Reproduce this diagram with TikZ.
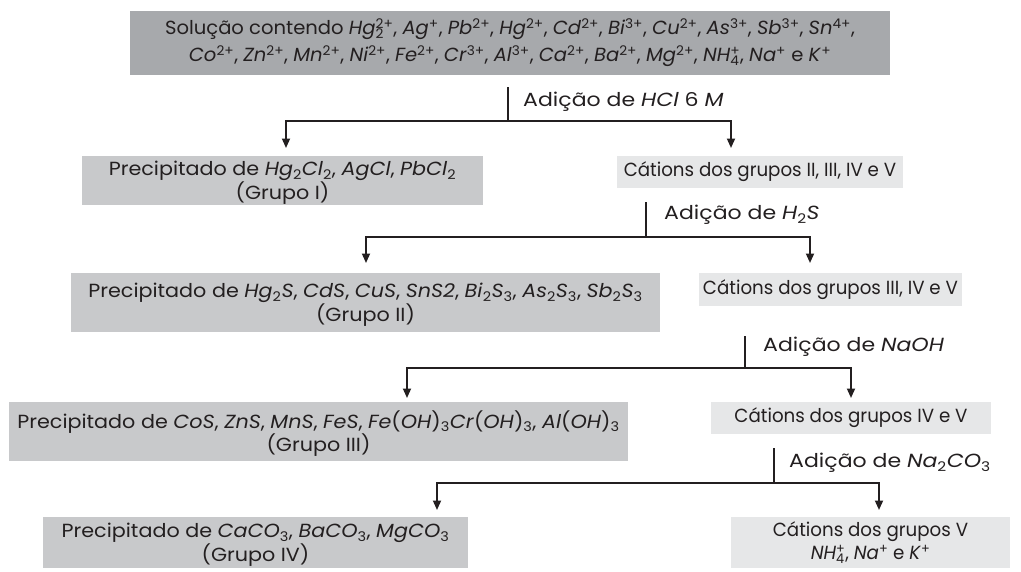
\documentclass[tikz,border=0pt]{standalone}
\usepackage{fontspec}
\setmainfont{Poppins}
\newfontfamily\fTop[FakeStretch=1.03]{Poppins}
\newfontfamily\fPre[FakeStretch=1.09]{Poppins}
\newfontfamily\fCat[FakeStretch=0.96]{Poppins}
\newfontfamily\fLab[FakeStretch=1.16]{Poppins}
\usetikzlibrary{arrows.meta}
\definecolor{dk}{HTML}{A7A9AC}
\definecolor{md}{HTML}{C8C9CB}
\definecolor{lt}{HTML}{E6E7E8}
\definecolor{ink}{HTML}{231F20}
\newcommand\el[1]{\textit{#1}}
\newcommand\Sup[1]{\textsuperscript{#1}}
\newcommand\Sub[1]{\textsubscript{#1}}
\newcommand\SubSup[2]{\makebox[0pt][l]{\textsubscript{#1}}\textsuperscript{#2}}
\tikzset{
  dkbox/.style={fill=dk, inner sep=0pt},
  mdbox/.style={fill=md, inner sep=0pt},
  ltbox/.style={fill=lt, inner sep=0pt},
  toptext/.style={inner sep=0pt, align=center, font=\fTop\fontsize{19}{27}\selectfont},
  pretext/.style={inner sep=0pt, align=center, font=\fPre\fontsize{19}{20}\selectfont},
  cattext/.style={inner sep=0pt, align=center, font=\fCat\fontsize{19}{23}\selectfont},
  conn/.style={line width=1.8pt, draw=ink},
  arr/.style={conn, -{Triangle[width=8pt,length=9.5pt]}},
  lbl/.style={anchor=west, inner sep=0pt, font=\fLab\fontsize{19}{20}\selectfont},
}
\begin{document}
\begin{tikzpicture}[x=1pt,y=-1pt,text=ink]
\useasboundingbox (0,0) rectangle (1021,571);
% boxes
\node[dkbox, minimum width=760, minimum height=64] (top) at (510,43) {};
\node[toptext] (topt) at (top.center)
 {Solução contendo \el{Hg}\SubSup{2}{2+}, \el{Ag}\Sup{+}, \el{Pb}\Sup{2+}, \el{Hg}\Sup{2+}, \el{Cd}\Sup{2+}, \el{Bi}\Sup{3+}, \el{Cu}\Sup{2+}, \el{As}\Sup{3+}, \el{Sb}\Sup{3+}, \el{Sn}\Sup{4+},\\
 \el{Co}\Sup{2+}, \el{Zn}\Sup{2+}, \el{Mn}\Sup{2+}, \el{Ni}\Sup{2+}, \el{Fe}\Sup{2+}, \el{Cr}\Sup{3+}, \el{Al}\Sup{3+}, \el{Ca}\Sup{2+}, \el{Ba}\Sup{2+}, \el{Mg}\Sup{2+}, \el{NH}\SubSup{4}{+}, \el{Na}\Sup{+} e \el{K}\Sup{+}};
\node[mdbox, minimum width=401, minimum height=49] (p1) at (282.5,180.5) {};
\node[pretext] (p1t) at ([yshift=-2pt]p1.center)
 {Precipitado de \el{Hg}\Sub{2}\el{Cl}\Sub{2}, \el{AgCl}, \el{PbCl}\Sub{2}\\(Grupo I)};
\node[ltbox, minimum width=286, minimum height=32] (c1) at (760,172) {};
\node[cattext] (c1t) at (c1.center) {Cátions dos grupos II, III, IV e V};
\node[mdbox, minimum width=589, minimum height=59] (p2) at (365.5,302.5) {};
\node[pretext] (p2t) at ([yshift=-2pt]p2.center)
 {Precipitado de \el{Hg}\Sub{2}\el{S}, \el{CdS}, \el{CuS}, \el{SnS2}, \el{Bi}\Sub{2}\el{S}\Sub{3}, \el{As}\Sub{2}\el{S}\Sub{3}, \el{Sb}\Sub{2}\el{S}\Sub{3}\\(Grupo II)};
\node[ltbox, minimum width=263, minimum height=33] (c2) at (830.5,289.5) {};
\node[cattext] (c2t) at (c2.center) {Cátions dos grupos III, IV e V};
\node[mdbox, minimum width=619, minimum height=59] (p3) at (318.5,431.5) {};
\node[pretext] (p3t) at ([yshift=-2pt]p3.center)
 {Precipitado de \el{CoS}, \el{ZnS}, \el{MnS}, \el{FeS}, \el{Fe}(\el{OH})\Sub{3}\el{Cr}(\el{OH})\Sub{3}, \el{Al}(\el{OH})\Sub{3}\\(Grupo III)};
\node[ltbox, minimum width=280, minimum height=32] (c3) at (851,418) {};
\node[cattext] (c3t) at (c3.center) {Cátions dos grupos IV e V};
\node[mdbox, minimum width=425, minimum height=51] (p4) at (255.5,542.5) {};
\node[pretext] (p4t) at ([yshift=-2pt]p4.center)
 {Precipitado de \el{CaCO}\Sub{3}, \el{BaCO}\Sub{3}, \el{MgCO}\Sub{3}\\(Grupo IV)};
\node[ltbox, minimum width=279, minimum height=51] (c4) at (870.5,542.5) {};
\node[cattext] (c4t) at (c4.center)
 {Cátions dos grupos V\\\el{NH}\SubSup{4}{+}, \el{Na}\Sup{+} e \el{K}\Sup{+}};
% split 1
\coordinate (s1) at (508,87);
\coordinate (j1) at (508,121);
\coordinate (t1l) at (286,148);
\coordinate (t1r) at (731,148);
\draw[conn] (s1) -- (j1);
\draw[arr] (j1) -| (t1l);
\draw[arr] (j1) -| (t1r);
\node[lbl] (l1) at (523,102) {Adição de \el{HCl} 6 \el{M}};
% split 2
\coordinate (s2) at (646,202);
\coordinate (j2) at (646,237);
\coordinate (t2l) at (366,263);
\coordinate (t2r) at (810,263);
\draw[conn] (s2) -- (j2);
\draw[arr] (j2) -| (t2l);
\draw[arr] (j2) -| (t2r);
\node[lbl] (l2) at (664,215) {Adição de \el{H}\Sub{2}\el{S}};
% split 3
\coordinate (s3) at (745,336);
\coordinate (j3) at (745,368);
\coordinate (t3l) at (407,398);
\coordinate (t3r) at (851,398);
\draw[conn] (s3) -- (j3);
\draw[arr] (j3) -| (t3l);
\draw[arr] (j3) -| (t3r);
\node[lbl] (l3) at (763,347) {Adição de \el{NaOH}};
% split 4
\coordinate (s4) at (774,448);
\coordinate (j4) at (774,483);
\coordinate (t4l) at (437,510);
\coordinate (t4r) at (879,510);
\draw[conn] (s4) -- (j4);
\draw[arr] (j4) -| (t4l);
\draw[arr] (j4) -| (t4r);
\node[lbl] (l4) at (789,463) {Adição de \el{Na}\Sub{2}\el{CO}\Sub{3}};
\end{tikzpicture}
\end{document}
